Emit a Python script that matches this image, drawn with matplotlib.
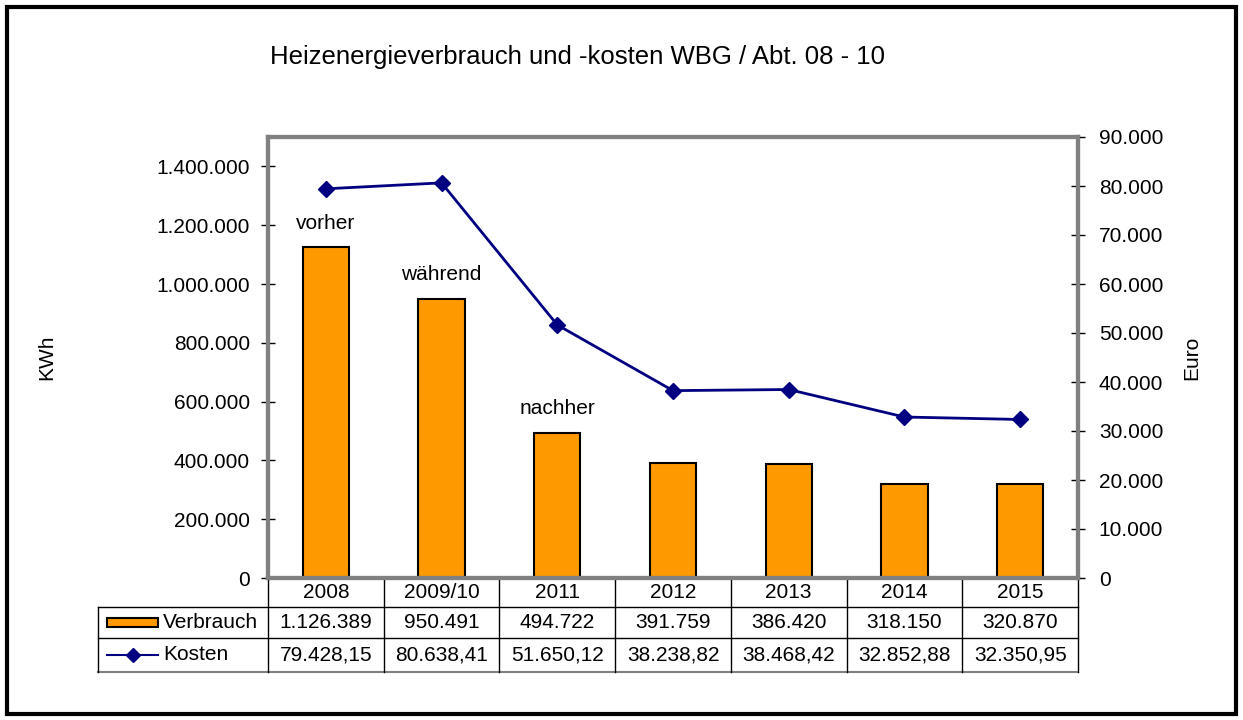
import numpy as np
import matplotlib.pyplot as plt
from matplotlib.patches import Rectangle
from matplotlib.lines import Line2D
import matplotlib.transforms as mtransforms

plt.rcParams['font.family'] = ['Liberation Sans', 'DejaVu Sans']

# Data
years = ['2008', '2009/10', '2011', '2012', '2013', '2014', '2015']
verbrauch = [1126389, 950491, 494722, 391759, 386420, 318150, 320870]
kosten = [79428.15, 80638.41, 51650.12, 38238.82, 38468.42, 32852.88, 32350.95]
verbrauch_txt = ['1.126.389', '950.491', '494.722', '391.759', '386.420', '318.150', '320.870']
kosten_txt = ['79.428,15', '80.638,41', '51.650,12', '38.238,82', '38.468,42', '32.852,88', '32.350,95']
phase_labels = ['vorher', 'während', 'nachher']
left_ticks = [0, 200000, 400000, 600000, 800000, 1000000, 1200000, 1400000]
left_ticklabels = ['0', '200.000', '400.000', '600.000', '800.000', '1.000.000', '1.200.000', '1.400.000']
right_ticks = [0, 10000, 20000, 30000, 40000, 50000, 60000, 70000, 80000, 90000]
right_ticklabels = ['0', '10.000', '20.000', '30.000', '40.000', '50.000', '60.000', '70.000', '80.000', '90.000']

bar_color = '#FF9900'
line_color = '#000080'
grey = '#808080'
fs = 15

fig = plt.figure(figsize=(12.43, 7.2), dpi=100)
# outer chart border
fig.patches.append(Rectangle((0.006, 0.008), 0.988, 0.982, transform=fig.transFigure,
                             fill=False, edgecolor='black', linewidth=3))

ax = fig.add_axes([268 / 1243, 1 - 578 / 720, (1078 - 268) / 1243, (578 - 137) / 720])
x = np.arange(len(years))
ax.bar(x, verbrauch, width=0.4, color=bar_color, edgecolor='black', linewidth=1.5, zorder=2)
ax.set_xlim(-0.5, len(years) - 0.5)
ax.set_ylim(0, 1500000)
ax.set_yticks(left_ticks)
ax.set_yticklabels(left_ticklabels, fontsize=fs)
ax.set_xticks([])
ax.tick_params(axis='y', direction='inout', length=10, width=1, pad=8)
ax.set_ylabel('KWh', fontsize=fs, labelpad=72)
for s in ax.spines.values():
    s.set_color(grey)
    s.set_linewidth(3)

for i, lab in enumerate(phase_labels):
    ax.annotate(lab, (x[i], verbrauch[i]), xytext=(0, 17), textcoords='offset points',
                ha='center', va='center', fontsize=fs)

ax2 = ax.twinx()
ax2.plot(x, kosten, color=line_color, marker='D', markersize=8, linewidth=2, zorder=3)
ax2.set_ylim(0, 90000)
ax2.set_yticks(right_ticks)
ax2.set_yticklabels(right_ticklabels, fontsize=fs)
ax2.tick_params(axis='y', direction='inout', length=10, width=1, pad=10)
ax2.set_ylabel('Euro', fontsize=fs, labelpad=14)
for s in ax2.spines.values():
    s.set_color(grey)
    s.set_linewidth(3)

fig.text(577 / 1243, 1 - 57 / 720, 'Heizenergieverbrauch und -kosten WBG / Abt. 08 - 10',
         ha='center', va='center', fontsize=18.5)

# Data table below the plot
tr = mtransforms.blended_transform_factory(ax.transData, ax.transAxes)
ta = ax.transAxes
rows = [0.0, -0.0658, -0.136, -0.213]
leg_left = -0.2099
kw = dict(color='black', linewidth=1, clip_on=False)
ax.add_line(Line2D([leg_left, 1], [rows[1], rows[1]], transform=ta, **kw))
ax.add_line(Line2D([leg_left, 1], [rows[2], rows[2]], transform=ta, **kw))
ax.add_line(Line2D([leg_left, 1], [rows[3], rows[3]], transform=ta, color=grey, linewidth=1.5, clip_on=False))
ax.add_line(Line2D([leg_left, leg_left], [rows[1], rows[3]], transform=ta, **kw))
for b in np.arange(len(years) + 1) - 0.5:
    ax.add_line(Line2D([b, b], [rows[0], rows[3]], transform=tr, **kw))

for i in range(len(years)):
    ax.text(x[i], (rows[0] + rows[1]) / 2, years[i], transform=tr, ha='center', va='center', fontsize=fs)
    ax.text(x[i], (rows[1] + rows[2]) / 2, verbrauch_txt[i], transform=tr, ha='center', va='center', fontsize=fs)
    ax.text(x[i], (rows[2] + rows[3]) / 2, kosten_txt[i], transform=tr, ha='center', va='center', fontsize=fs)

# legend keys inside the table
sym_l, sym_r = (107 - 268) / 810, (158 - 268) / 810
ym1 = (rows[1] + rows[2]) / 2
ym2 = (rows[2] + rows[3]) / 2
ax.add_patch(Rectangle((sym_l, ym1 - 0.011), sym_r - sym_l, 0.022, transform=ta,
                       facecolor=bar_color, edgecolor='black', linewidth=1.5, clip_on=False))
ax.add_line(Line2D([sym_l, sym_r], [ym2, ym2], transform=ta, color=line_color, linewidth=1.5, clip_on=False))
ax.add_line(Line2D([(sym_l + sym_r) / 2], [ym2], transform=ta, color=line_color, marker='D',
                   markersize=7, clip_on=False))
ax.text((163 - 268) / 810, ym1, 'Verbrauch', transform=ta, ha='left', va='center', fontsize=fs)
ax.text((163 - 268) / 810, ym2, 'Kosten', transform=ta, ha='left', va='center', fontsize=fs)

fig.savefig('out.png', dpi=100)
